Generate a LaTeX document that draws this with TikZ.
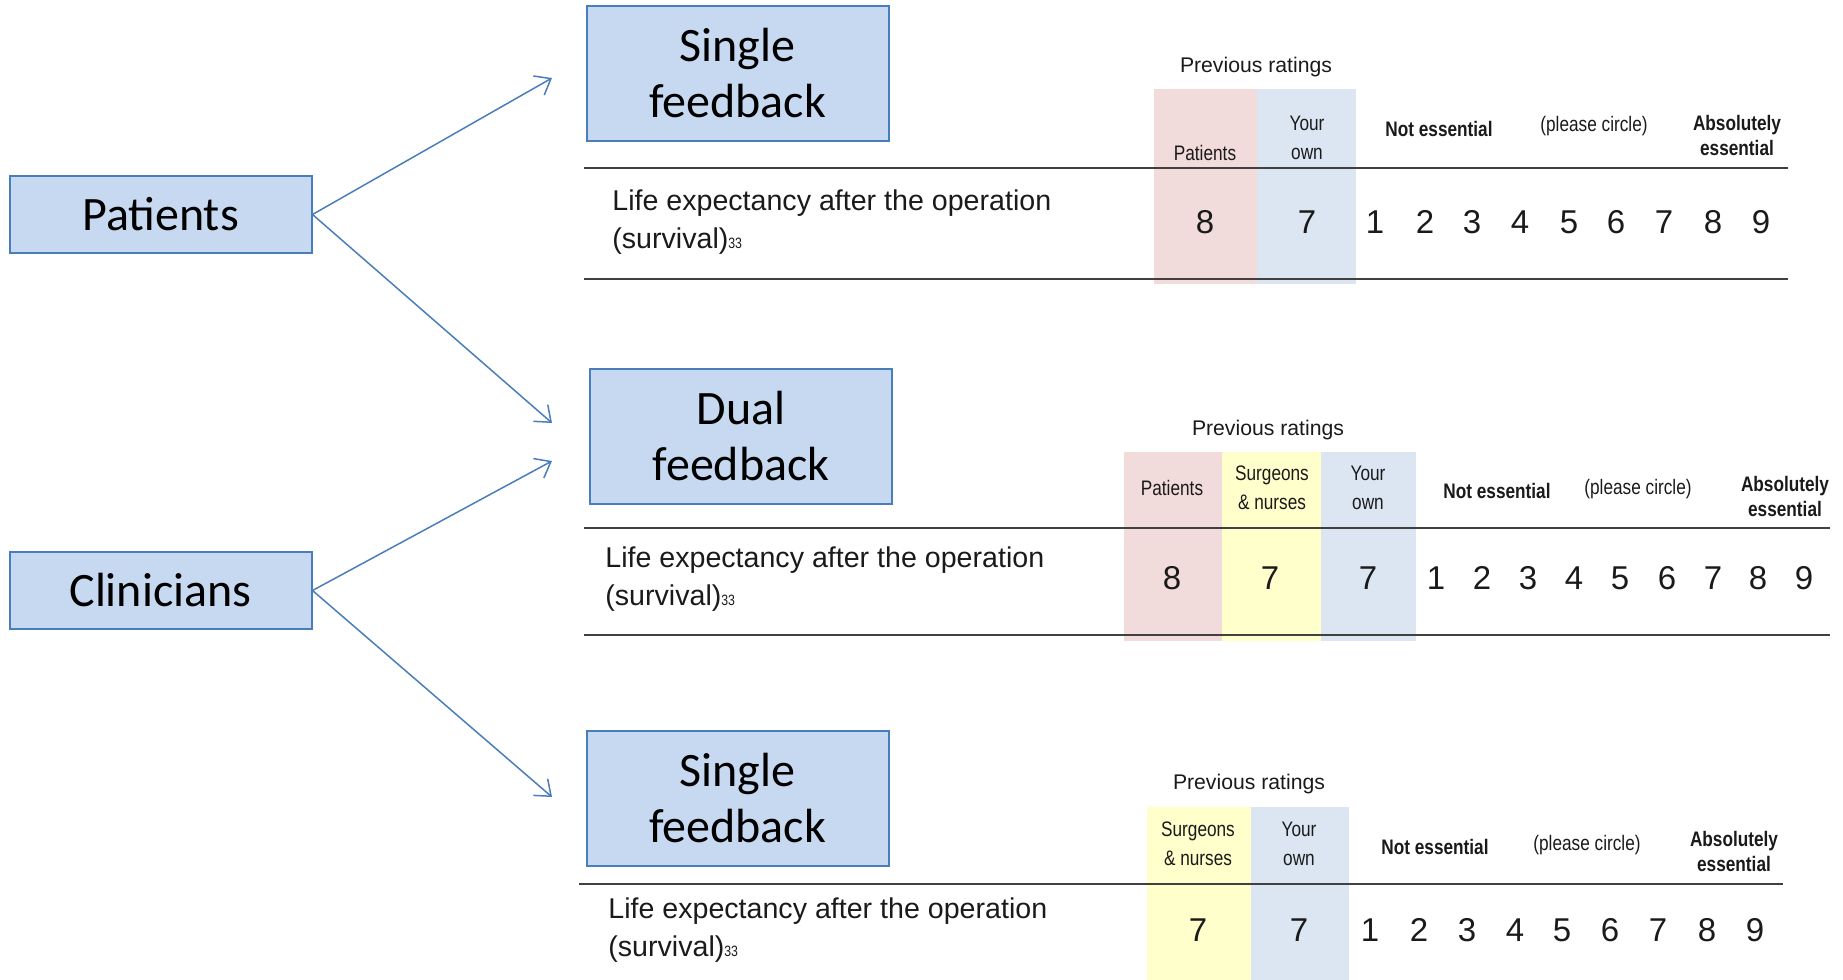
\documentclass[tikz,border=0pt]{standalone}
\usepackage{fontspec}
\setmainfont{Liberation Sans}
\newfontfamily\calibri{Carlito}
\newfontfamily\narrow[FakeStretch=0.82]{Liberation Sans}
\usetikzlibrary{arrows.meta}
\definecolor{boxfill}{HTML}{C6D9F1}
\definecolor{boxline}{HTML}{4A7EBB}
\definecolor{pinkcol}{HTML}{F2DCDB}
\definecolor{bluecol}{HTML}{DCE6F2}
\definecolor{yellowcol}{HTML}{FFFFCC}
\definecolor{rulecol}{HTML}{404040}
\definecolor{ink}{HTML}{1A1A1A}
\newcommand{\subn}{{\narrow\fontsize{7.5}{8}\selectfont 33}}
\begin{document}
\begin{tikzpicture}[x=0.5pt,y=-0.5pt,
 groupbox/.style={draw=boxline, line width=1pt, fill=boxfill, minimum width=151pt, minimum height=38.5pt, inner sep=0pt, font=\calibri\fontsize{24}{28}\selectfont},
 fbbox/.style={groupbox, minimum height=67.5pt, align=center},
 link/.style={draw=boxline, line width=0.75pt, -{Straight Barb[length=7pt,width=11pt]}},
 hdr/.style={font=\narrow\fontsize{10.5}{14.5}\selectfont, align=center, inner sep=0pt, text=ink},
 hdrb/.style={font=\narrow\bfseries\fontsize{10.5}{12.5}\selectfont, align=center, inner sep=0pt, text=ink},
 prev/.style={font=\fontsize{10.6}{12}\selectfont, inner sep=0pt, text=ink},
 item/.style={font=\fontsize{14.3}{19}\selectfont, align=left, anchor=west, inner sep=0pt, text=ink},
 num/.style={font=\fontsize{16.5}{18}\selectfont, inner sep=0pt, text=ink},
 tline/.style={draw=rulecol, line width=1pt}
]
\useasboundingbox (0,0) rectangle (1843,980);

% ---------- left boxes ----------
\node[groupbox] (pat) at (160.5,214.5) {Patients};
\node[groupbox] (cli) at (160.5,590.5) {Clinicians};

% ---------- feedback boxes ----------
\node[fbbox] (sf1) at (737.5,73.5) {Single\\feedback};
\node[fbbox] (df) at (741,436.5) {Dual\\feedback};
\node[fbbox] (sf2) at (737.5,798.5) {Single\\feedback};

% ---------- arrows ----------
\coordinate (a1) at (552,78);
\coordinate (a2) at (552,423);
\coordinate (a3) at (552,461);
\coordinate (a4) at (552,797);
\draw[link] (pat.east) -- (a1);
\draw[link] (pat.east) -- (a2);
\draw[link] (cli.east) -- (a3);
\draw[link] (cli.east) -- (a4);

% ---------- table 1 ----------
\fill[pinkcol] (1154,89) rectangle (1256.5,284);
\fill[bluecol] (1256.5,89) rectangle (1356,284);
\draw[tline] (584,168) -- (1788,168);
\draw[tline] (584,279) -- (1788,279);
\node[prev] (t1prev) at (1256,67) {Previous ratings};
\node[hdr] (t1pat) at (1205,153) {Patients};
\node[hdr] (t1own) at (1307,138) {Your\\own};
\node[hdrb] (t1not) at (1439,129) {Not essential};
\node[hdr] (t1pc) at (1594,126) {(please circle)};
\node[hdrb] (t1abs) at (1737,135) {Absolutely\\essential};
\node[item] (t1item) at (612,222) {Life expectancy after the operation\\(survival)\subn};
\node[num] (t1p) at (1205,222) {8};
\node[num] (t1o) at (1307,222) {7};
\foreach \d/\x in {1/1375,2/1425,3/1472,4/1520,5/1569,6/1616,7/1664,8/1713,9/1761}
  \node[num] (t1n\d) at (\x,222) {\d};

% ---------- table 2 ----------
\fill[pinkcol] (1124,452) rectangle (1222,641);
\fill[yellowcol] (1222,452) rectangle (1321,641);
\fill[bluecol] (1321,452) rectangle (1416,641);
\draw[tline] (584,528) -- (1830,528);
\draw[tline] (584,635) -- (1830,635);
\node[prev] (t2prev) at (1268,430) {Previous ratings};
\node[hdr] (t2pat) at (1172,488) {Patients};
\node[hdr] (t2sur) at (1272,488) {Surgeons\\\& nurses};
\node[hdr] (t2own) at (1368,488) {Your\\own};
\node[hdrb] (t2not) at (1497,491) {Not essential};
\node[hdr] (t2pc) at (1638,489) {(please circle)};
\node[hdrb] (t2abs) at (1785,496) {Absolutely\\essential};
\node[item] (t2item) at (605,579) {Life expectancy after the operation\\(survival)\subn};
\node[num] (t2p) at (1172,578) {8};
\node[num] (t2s) at (1270,578) {7};
\node[num] (t2o) at (1368,578) {7};
\foreach \d/\x in {1/1436,2/1482,3/1528,4/1574,5/1620,6/1667,7/1713,8/1758,9/1804}
  \node[num] (t2n\d) at (\x,578) {\d};

% ---------- table 3 ----------
\fill[yellowcol] (1147,807) rectangle (1251,980);
\fill[bluecol] (1251,807) rectangle (1349,980);
\draw[tline] (579,884) -- (1783,884);
\node[prev] (t3prev) at (1249,784) {Previous ratings};
\node[hdr] (t3sur) at (1198,844) {Surgeons\\\& nurses};
\node[hdr] (t3own) at (1299,844) {Your\\own};
\node[hdrb] (t3not) at (1435,847) {Not essential};
\node[hdr] (t3pc) at (1587,845) {(please circle)};
\node[hdrb] (t3abs) at (1734,851) {Absolutely\\essential};
\node[item] (t3item) at (608,930) {Life expectancy after the operation\\(survival)\subn};
\node[num] (t3s) at (1198,930) {7};
\node[num] (t3o) at (1299,930) {7};
\foreach \d/\x in {1/1370,2/1419,3/1467,4/1515,5/1562,6/1610,7/1658,8/1707,9/1755}
  \node[num] (t3n\d) at (\x,930) {\d};
\end{tikzpicture}
\end{document}
